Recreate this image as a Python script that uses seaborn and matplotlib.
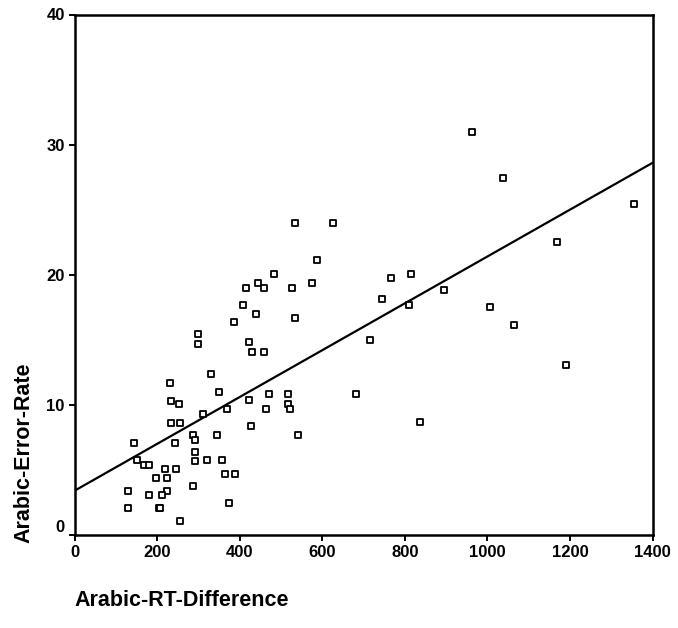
import matplotlib
matplotlib.use("Agg")
import matplotlib.pyplot as plt
import seaborn as sns
import pandas as pd

# Data
rt_difference = [962, 1038, 1355, 533, 626, 1168, 587, 484, 767, 815,
                 445, 415, 458, 526, 576, 894, 744, 408, 811, 1007,
                 440, 534, 387, 1065, 300, 300, 422, 431, 458, 715,
                 1191, 330, 231, 351, 233, 252, 423, 470, 516, 517,
                 521, 683, 463, 369, 312, 836, 233, 256, 427, 287,
                 344, 542, 293, 144, 244, 291, 151, 291, 322, 358,
                 168, 180, 219, 245, 197, 223, 365, 388, 130, 288,
                 181, 223, 212, 130, 204, 207, 374, 256]
error_rate = [31.0, 27.4, 25.4, 24.0, 24.0, 22.5, 21.1, 20.05, 19.75, 20.05,
              19.4, 19.0, 19.0, 19.0, 19.4, 18.8, 18.1, 17.7, 17.7, 17.5,
              17.0, 16.7, 16.4, 16.1, 15.45, 14.7, 14.8, 14.05, 14.1, 15.0,
              13.1, 12.4, 11.7, 11.0, 10.3, 10.1, 10.35, 10.8, 10.8, 10.1,
              9.65, 10.8, 9.7, 9.7, 9.3, 8.65, 8.6, 8.6, 8.35, 7.7,
              7.7, 7.7, 7.3, 7.05, 7.05, 6.4, 5.75, 5.7, 5.75, 5.75,
              5.35, 5.35, 5.1, 5.05, 4.4, 4.4, 4.7, 4.7, 3.35, 3.8,
              3.05, 3.35, 3.05, 2.05, 2.05, 2.05, 2.45, 1.1]

# Fitted regression line endpoints
fit_x = [0, 1400]
fit_y = [3.4, 28.6]

x_ticks = [0, 200, 400, 600, 800, 1000, 1200, 1400]
y_ticks = [0, 10, 20, 30, 40]

x_label = "Arabic-RT-Difference"
y_label = "Arabic-Error-Rate"

sns.set_style("ticks")
plt.rcParams["font.family"] = ["Liberation Sans", "DejaVu Sans"]
plt.rcParams["font.weight"] = "bold"

df = pd.DataFrame({"x": rt_difference, "y": error_rate})
fit_df = pd.DataFrame({"x": fit_x, "y": fit_y})

fig = plt.figure(figsize=(6.78, 6.28), dpi=100)
ax = fig.add_axes([74.5 / 678, 1 - 535 / 628, 578 / 678, 520.5 / 628])

sns.lineplot(data=fit_df, x="x", y="y", ax=ax, color="black", linewidth=1.6)
sns.scatterplot(data=df, x="x", y="y", ax=ax, marker="s", s=24,
                facecolor="white", edgecolor="black", linewidth=1.3, zorder=3)

ax.set_xlim(0, 1400)
ax.set_ylim(0, 40)
ax.set_xticks(x_ticks)
ax.set_yticks(y_ticks)
ax.set_xticklabels([str(v) for v in x_ticks], fontsize=12, fontweight="bold")
ax.set_yticklabels([str(v) for v in y_ticks], fontsize=12, fontweight="bold")
ax.tick_params(axis="both", direction="out", length=4, width=1.4, color="black",
               pad=3, labelcolor="black")

for side in ["left", "right", "top", "bottom"]:
    ax.spines[side].set_visible(True)
    ax.spines[side].set_linewidth(1.8)
    ax.spines[side].set_color("black")

ax.set_xlabel(x_label, fontsize=15.5, fontweight="bold", color="black")
ax.set_ylabel(y_label, fontsize=15.5, fontweight="bold", color="black")
ax.xaxis.label.set_ha("left")
ax.xaxis.label.set_va("center")
ax.xaxis.set_label_coords(0.0, -(600 - 535) / 520.5)
ax.yaxis.label.set_rotation_mode("anchor")
ax.yaxis.label.set_ha("left")
ax.yaxis.label.set_va("center")
ax.yaxis.set_label_coords((24 - 74.5) / 578, -(543 - 535) / 520.5)

# The "0" tick label of the y axis sits slightly above its tick in the reference
ax.get_yticklabels()[0].set_va("bottom")

fig.savefig("out.png", dpi=100, facecolor="white")
